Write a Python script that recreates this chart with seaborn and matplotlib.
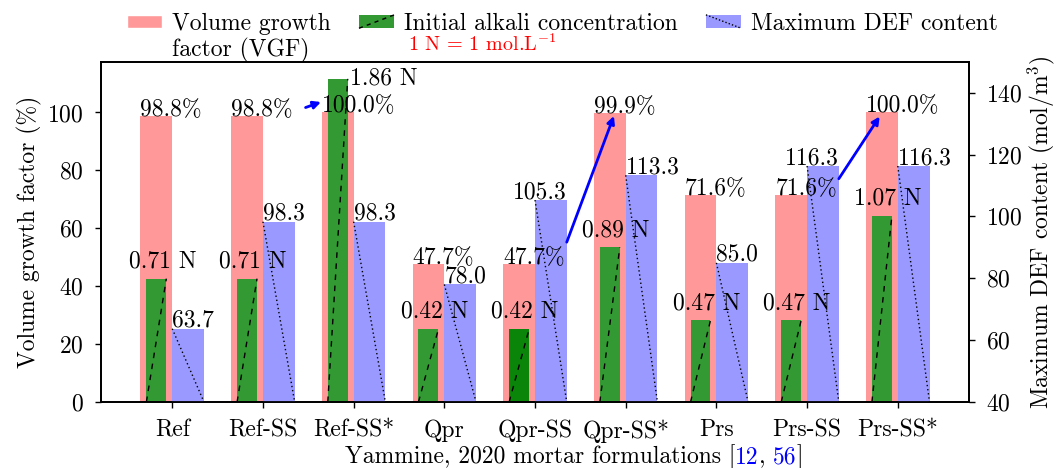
import matplotlib
matplotlib.use("Agg")
import numpy as np
import matplotlib.pyplot as plt
import seaborn as sns
from matplotlib.patches import Patch, Rectangle
from matplotlib.lines import Line2D
from matplotlib.legend_handler import HandlerPatch

# data
formulations = ["Ref", "Ref-SS", "Ref-SS*", "Qpr", "Qpr-SS", "Qpr-SS*", "Prs", "Prs-SS", "Prs-SS*"]
vgf = [98.8, 98.8, 100.0, 47.7, 47.7, 99.9, 71.6, 71.6, 100.0]          # %
alkali = [0.71, 0.71, 1.86, 0.42, 0.42, 0.89, 0.47, 0.47, 1.07]         # N
def_content = [63.7, 98.3, 98.3, 78.0, 105.3, 113.3, 85.0, 116.3, 116.3]  # mol/m3
alkali_scale = 60  # alkali drawn on the VGF axis: 1 N -> 60 units
right_aligned_def = ["Qpr-SS", "Prs-SS"]
# arrows (start, end) in VGF-axis data units
arrows = [((1.47, 101.7), (1.64, 103.6)),
          ((4.35, 55.2), (4.87, 98.8)),
          ((7.35, 77.1), (7.80, 98.6))]

sns.set_style("ticks")
plt.rcParams.update({
    "font.family": "serif",
    "font.serif": ["cmr10"],
    "mathtext.fontset": "cm",
    "axes.unicode_minus": False,
    "axes.formatter.use_mathtext": True,
    "font.size": 17,
    "axes.linewidth": 1.3,
    "axes.edgecolor": "black",
    "text.color": "black",
    "axes.labelcolor": "black",
    "xtick.color": "black",
    "ytick.color": "black",
})

PINK, GREEN, BLUE = "#ff9999", "#339933", "#9999ff"

fig, ax = plt.subplots(figsize=(10.57, 4.68), dpi=100)
fig.subplots_adjust(left=0.0956, right=0.9167, top=0.868, bottom=0.141)
ax2 = ax.twinx()

x = np.arange(len(formulations))
sns.barplot(x=x - 0.175, y=vgf, native_scale=True, orient="x", width=0.35, color=PINK,
            saturation=1, linewidth=0, errorbar=None, ax=ax)
sns.barplot(x=x - 0.175, y=np.array(alkali) * alkali_scale, native_scale=True, orient="x",
            width=0.22, color=GREEN, saturation=1, linewidth=0, errorbar=None, ax=ax)
sns.barplot(x=x + 0.175, y=def_content, native_scale=True, orient="x", width=0.35, color=BLUE,
            saturation=1, linewidth=0, errorbar=None, ax=ax2)

green_bars = ax.patches[len(x):2 * len(x)]
green_bars[4].set_facecolor("#0a850a")
for p in green_bars:
    l, r, h = p.get_x(), p.get_x() + p.get_width(), p.get_height()
    ax.plot([l, r], [0, h], color="black", lw=1, ls=(0, (4, 4)))
for p in ax2.patches:
    l, r, h = p.get_x(), p.get_x() + p.get_width(), p.get_height()
    ax2.plot([l, r], [h, 40], color="black", lw=1, ls=(0, (1, 2)))

ax.set_ylim(0, 117.5)
ax2.set_ylim(40, 150)
ax.set_xlim(-0.785, 8.785)
ax.set_yticks([0, 20, 40, 60, 80, 100])
ax2.set_yticks([40, 60, 80, 100, 120, 140])
ax.set_xticks(x, formulations)
for a in (ax, ax2):
    a.tick_params(length=4, width=1, direction="out", pad=8.5)
ax.set_ylabel("Volume growth factor (%)", labelpad=4)
ax2.set_ylabel("Maximum DEF content (mol/m$^3$)", labelpad=2)

# value labels (drawn on ax2 so that they sit above every bar)
for i, name in enumerate(formulations):
    v, n, d = vgf[i], alkali[i], def_content[i]
    ax2.text(i - 0.35, v, f"{v:.1f}%", transform=ax.transData, ha="left", va="baseline")
    g = n * alkali_scale
    if g > v:
        ax2.text(i - 0.035, g, f"{n:.2f} N", transform=ax.transData, ha="left", va="center")
    else:
        ax2.text(i - 0.11, g + 6, f"{n:.2f} N", transform=ax.transData, ha="center", va="center")
    if name in right_aligned_def:
        ax2.text(i + 0.35, d + 0.6, f"{d:.1f}", ha="right", va="baseline")
    else:
        ax2.text(i, d + 0.6, f"{d:.1f}", ha="left", va="baseline")

for start, end in arrows:
    ax2.annotate("", xy=end, xytext=start, xycoords=ax.transData, textcoords=ax.transData,
                 arrowprops=dict(arrowstyle="-|>", color="blue", lw=2, mutation_scale=11,
                                 shrinkA=0, shrinkB=0))


class DiagHandler(HandlerPatch):
    def __init__(self, ls, rising):
        super().__init__()
        self.ls, self.rising = ls, rising

    def create_artists(self, legend, orig_handle, xdescent, ydescent, width, height, fontsize, trans):
        x0, y0 = -xdescent, -ydescent
        rect = Rectangle((x0, y0), width, height, facecolor=orig_handle.get_facecolor(),
                         edgecolor="none", transform=trans)
        ys = [y0, y0 + height] if self.rising else [y0 + height, y0]
        line = Line2D([x0, x0 + width], ys, color="black", lw=1, ls=self.ls, transform=trans)
        return [rect, line]


h_vgf = Patch(facecolor=PINK)
h_alk = Patch(facecolor=GREEN)
h_def = Patch(facecolor=BLUE)
leg = ax2.legend([h_vgf, h_alk, h_def], ["Volume growth", "Initial alkali concentration", "Maximum DEF content"],
                 loc="center", bbox_to_anchor=(0.532, 0.949), bbox_transform=fig.transFigure,
                 ncol=3, frameon=False, handlelength=1.5, handleheight=0.5, handletextpad=0.4,
                 columnspacing=1.2,
                 handler_map={h_alk: DiagHandler((0, (3, 3)), True), h_def: DiagHandler((0, (1, 1.5)), False)})
texts = leg.get_texts()
ax2.annotate("factor (VGF)", xy=(0, 0), xycoords=texts[0], xytext=(0, -2), textcoords="offset points",
             ha="left", va="top", annotation_clip=False, zorder=10)
ax2.annotate("1 N = 1 mol.L$^{-1}$", xy=(0, 0), xycoords=texts[1], xytext=(3, 1), textcoords="offset points",
             ha="left", va="top", color="red", fontsize=14.5, annotation_clip=False, zorder=10)

# x label with coloured references
t1 = fig.text(0.326, 0.011, "Yammine, 2020 mortar formulations [", ha="left", va="baseline")
t2 = ax.annotate("12", xy=(1, 0), xycoords=t1, ha="left", va="bottom", color="blue", annotation_clip=False)
t3 = ax.annotate(", ", xy=(1, 0), xycoords=t2, ha="left", va="bottom", annotation_clip=False)
t4 = ax.annotate("56", xy=(1, 0), xycoords=t3, ha="left", va="bottom", color="blue", annotation_clip=False)
t5 = ax.annotate("]", xy=(1, 0), xycoords=t4, ha="left", va="bottom", annotation_clip=False)

fig.savefig("out.png", dpi=100)
